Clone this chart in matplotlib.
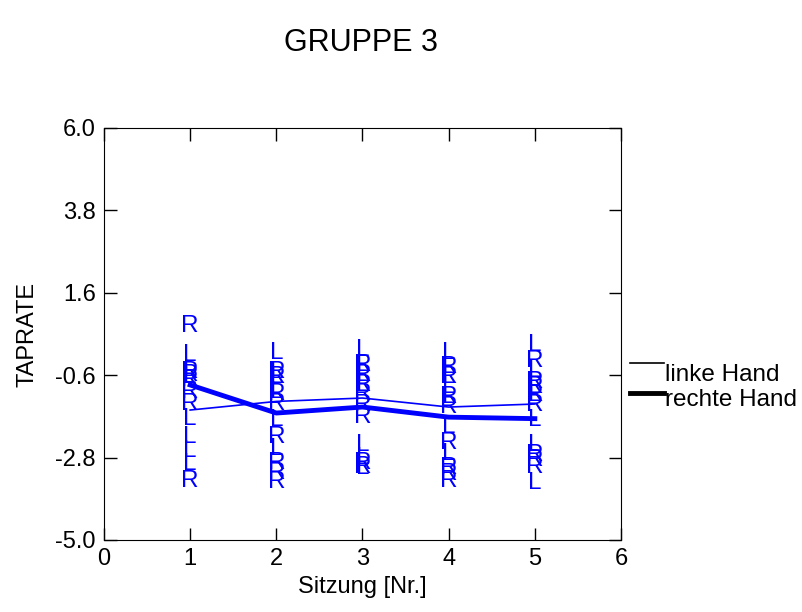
import numpy as np
import matplotlib
matplotlib.use('Agg')
import matplotlib.pyplot as plt
from matplotlib.lines import Line2D

plt.rcParams['font.family'] = ['Liberation Sans', 'DejaVu Sans']

# Sitzungen und Einzelwerte (L = linke Hand, R = rechte Hand)
sitzung = [1, 2, 3, 4, 5]
links = [
    [-0.06, -0.46, -0.65, -1.77, -2.25, -2.62, -2.97],
    [-0.01, -0.52, -0.65, -1.05, -1.80, -2.57],
    [0.07, -0.33, -0.60, -0.86, -2.46, -2.81, -3.08],
    [-0.01, -0.38, -0.65, -0.92, -1.18, -1.98, -2.70],
    [0.21, -0.49, -0.92, -1.13, -1.80, -2.46, -3.48],
]
rechts = [
    [0.71, -0.52, -0.60, -0.73, -1.05, -1.37, -3.43],
    [-0.52, -0.65, -1.10, -1.37, -2.25, -2.95, -3.21, -3.45],
    [-0.33, -0.60, -0.86, -1.10, -1.40, -1.72, -2.95, -3.05],
    [-0.38, -0.65, -1.18, -1.45, -2.41, -3.08, -3.24, -3.43],
    [-0.22, -0.78, -0.92, -1.13, -1.40, -2.73, -2.87, -3.05],
]
# Mittelwerte je Sitzung
mittel_links = [-1.53, -1.30, -1.21, -1.45, -1.37]
mittel_rechts = [-0.86, -1.61, -1.45, -1.72, -1.76]

yticks = [-5.0, -2.8, -0.6, 1.6, 3.8, 6.0]
legende = ['linke Hand', 'rechte Hand']
blau = '#0000ff'

W, H = 803, 612
fig = plt.figure(figsize=(W / 100, H / 100), dpi=100)
ax = fig.add_axes([104 / W, 72 / H, 517 / W, 412 / H])

for s, werte in zip(sitzung, links):
    for w in werte:
        ax.text(s, w, 'L', color=blau, fontsize=17.5, ha='center', va='center')
for s, werte in zip(sitzung, rechts):
    for w in werte:
        ax.text(s, w, 'R', color=blau, fontsize=17.5, ha='center', va='center')

ax.plot(sitzung, mittel_links, color=blau, lw=1.2)
ax.plot(sitzung, mittel_rechts, color=blau, lw=3.5)

ax.set_xlim(0, 6)
ax.set_ylim(-5, 6)
ax.set_xticks(range(7))
ax.set_yticks(yticks)
ax.set_yticklabels(['%.1f' % v for v in yticks])
ax.tick_params(direction='in', length=9, width=1, labelsize=17,
               top=True, right=True, pad=6)
ax.set_xlabel('Sitzung [Nr.]', fontsize=17, labelpad=4)
ax.set_ylabel('TAPRATE', fontsize=17, labelpad=12)
fig.suptitle('GRUPPE 3', fontsize=22, x=0.45, y=0.955)

# Legende rechts neben dem Diagramm: Linie oben, Text darunter
for i, (name, lw) in enumerate(zip(legende, [1.2, 3.5])):
    y_linie = 1 - (363 + 30 * i) / H
    y_text = 1 - (375 + 25 * i) / H
    fig.add_artist(Line2D([630 / W, 664 / W], [y_linie, y_linie],
                          color='black', lw=lw))
    fig.text(665 / W, y_text, name, fontsize=17.5, ha='left', va='center')

fig.savefig('out.png', dpi=100)
